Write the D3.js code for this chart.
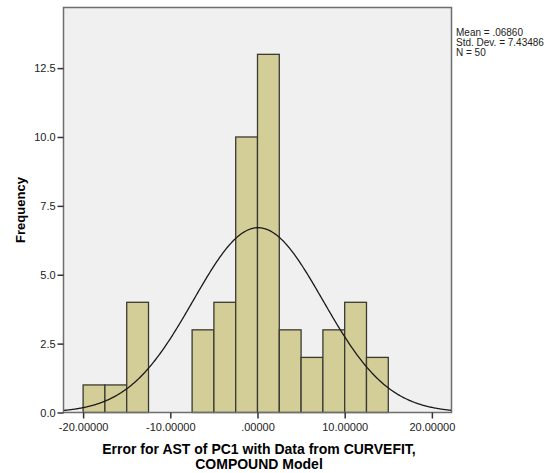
<!DOCTYPE html>
<html><head><meta charset="utf-8">
<script src="https://cdn.jsdelivr.net/npm/d3@7"></script>
<style>body{margin:0;background:#fff;} text{font-family:Arial,"Liberation Sans",sans-serif;}</style>
</head><body>
<svg id="c" width="555" height="473"></svg>
<script>
const binStarts = [-20,-17.5,-15,-12.5,-10,-7.5,-5,-2.5,0,2.5,5,7.5,10,12.5];
const counts    = [1,1,4,0,0,3,4,10,13,3,2,3,4,2];
const binWidth = 2.5;
const mean = 0.06860, sd = 7.43486, N = 50;
const xTicks = [-20,-10,0,10,20];
const xTickLabels = ["-20.00000","-10.00000",".00000","10.00000","20.00000"];
const yTicks = [0,2.5,5,7.5,10,12.5];
const yTickLabels = ["0.0","2.5","5.0","7.5","10.0","12.5"];
const statsLines = ["Mean = .06860","Std. Dev. = 7.43486","N = 50"];

const svg = d3.select("#c");
const L=63.5, R=451.5, T=7.5, B=412.5;
const x = d3.scaleLinear().domain([-22.25,22.25]).range([L,R]);
const y = d3.scaleLinear().domain([0,14.7]).range([B,T]);

svg.append("rect").attr("x",L).attr("y",T).attr("width",R-L).attr("height",B-T)
  .attr("fill","#f0f0f0");

// bars
svg.append("g").selectAll("rect").data(binStarts.map((s,i)=>({s,c:counts[i]})).filter(d=>d.c>0))
  .join("rect")
  .attr("x",d=>x(d.s)).attr("width",d=>x(d.s+binWidth)-x(d.s))
  .attr("y",d=>y(d.c)).attr("height",d=>y(0)-y(d.c))
  .attr("fill","#d3ce97").attr("stroke","#3a3a32").attr("stroke-width",1.3);

// normal curve
const pts = d3.range(0,401).map(i=>{const v=-22.25+44.5*i/400;
  return [v, N*binWidth/(sd*Math.sqrt(2*Math.PI))*Math.exp(-0.5*((v-mean)/sd)**2)];});
svg.append("path").datum(pts)
  .attr("d",d3.line().x(d=>x(d[0])).y(d=>y(d[1])))
  .attr("fill","none").attr("stroke","#1a1a1a").attr("stroke-width",1.3);

// frame
svg.append("rect").attr("x",L).attr("y",T).attr("width",R-L).attr("height",B-T)
  .attr("fill","none").attr("stroke","#6e6e6e").attr("stroke-width",1.5);

// axes
const xa = svg.append("g").attr("transform",`translate(0,${B})`)
  .call(d3.axisBottom(x).tickValues(xTicks).tickSize(6).tickSizeOuter(0).tickFormat((d,i)=>xTickLabels[i]));
const ya = svg.append("g").attr("transform",`translate(${L},0)`)
  .call(d3.axisLeft(y).tickValues(yTicks).tickSize(6).tickSizeOuter(0).tickFormat((d,i)=>yTickLabels[i]));
[xa,ya].forEach(a=>{a.select(".domain").remove();
  a.selectAll("line").attr("stroke","#333").attr("stroke-width",1.5);
  a.selectAll("text").attr("fill","#222").style("font-size","11px").style("font-family","Arial");});
xa.selectAll("text").attr("dy","0.9em");
ya.selectAll("text").attr("dx","0.1em");

// axis titles
svg.append("text").attr("transform",`translate(25,${(T+B)/2}) rotate(-90)`)
  .attr("text-anchor","middle").style("font-size","13px").style("font-weight","bold").attr("fill","#000")
  .text("Frequency");
const xt = svg.append("text").attr("text-anchor","middle").style("font-size","14px").style("font-weight","bold").attr("fill","#000");
xt.append("tspan").attr("x",259).attr("y",454).text("Error for AST of PC1 with Data from CURVEFIT,");
xt.append("tspan").attr("x",259).attr("y",469).text("COMPOUND Model");

// stats
const st = svg.append("text").style("font-size","10px").attr("fill","#222");
statsLines.forEach((s,i)=>st.append("tspan").attr("x",456).attr("y",36+i*10).text(s));
</script>
</body></html>
